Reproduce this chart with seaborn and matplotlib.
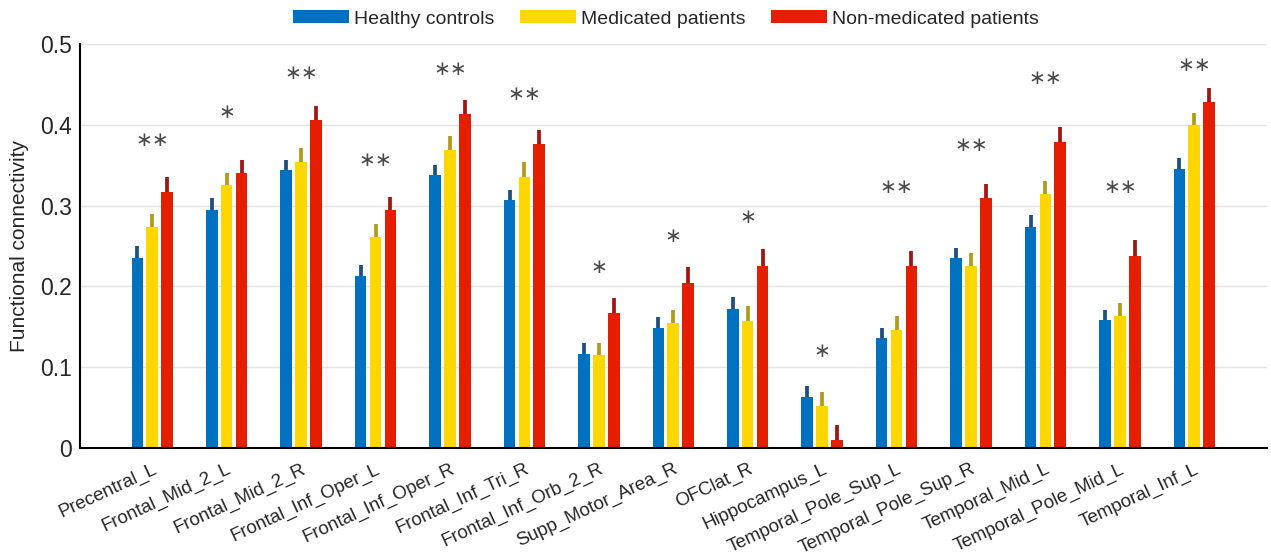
import matplotlib
matplotlib.use("Agg")

import matplotlib.pyplot as plt
import pandas as pd
import seaborn as sns

# values
regions = ["Precentral_L", "Frontal_Mid_2_L", "Frontal_Mid_2_R", "Frontal_Inf_Oper_L",
           "Frontal_Inf_Oper_R", "Frontal_Inf_Tri_R", "Frontal_Inf_Orb_2_R",
           "Supp_Motor_Area_R", "OFClat_R", "Hippocampus_L", "Temporal_Pole_Sup_L",
           "Temporal_Pole_Sup_R", "Temporal_Mid_L", "Temporal_Pole_Mid_L", "Temporal_Inf_L"]
groups = ["Healthy controls", "Medicated patients", "Non-medicated patients"]

healthy = [0.235, 0.295, 0.344, 0.213, 0.338, 0.307, 0.116, 0.148, 0.172, 0.063,
           0.136, 0.235, 0.274, 0.158, 0.345]
medicated = [0.273, 0.325, 0.354, 0.261, 0.369, 0.336, 0.115, 0.155, 0.157, 0.052,
             0.146, 0.225, 0.315, 0.163, 0.400]
nonmedicated = [0.317, 0.341, 0.406, 0.295, 0.414, 0.376, 0.167, 0.204, 0.225, 0.010,
                0.225, 0.310, 0.379, 0.238, 0.428]

# upper end of the error bars
healthy_err = [0.250, 0.309, 0.357, 0.227, 0.350, 0.320, 0.130, 0.162, 0.187, 0.077,
               0.149, 0.248, 0.288, 0.171, 0.359]
medicated_err = [0.290, 0.341, 0.371, 0.277, 0.386, 0.354, 0.130, 0.171, 0.176, 0.070,
                 0.163, 0.241, 0.331, 0.180, 0.415]
nonmedicated_err = [0.335, 0.357, 0.423, 0.311, 0.431, 0.394, 0.186, 0.224, 0.246, 0.028,
                    0.244, 0.327, 0.397, 0.257, 0.446]

stars = ["**", "*", "**", "**", "**", "**", "*", "*", "*", "*", "**", "**", "**", "**", "**"]
star_level = [0.381, 0.415, 0.464, 0.356, 0.468, 0.438, 0.223, 0.262, 0.285, 0.119,
              0.322, 0.375, 0.458, 0.322, 0.474]

yticks = [0, 0.1, 0.2, 0.3, 0.4, 0.5]
ytick_labels = ["0", "0.1", "0.2", "0.3", "0.4", "0.5"]

bar_colors = {"Healthy controls": "#0070c0",
              "Medicated patients": "#ffd700",
              "Non-medicated patients": "#e61e00"}
err_colors = ["#1d4f80", "#b39a1a", "#a31515"]

sns.set_theme(style="white")
plt.rcParams["font.family"] = ["Liberation Sans", "DejaVu Sans"]

df = pd.DataFrame({
    "region": regions * 3,
    "group": [g for g in groups for _ in regions],
    "value": healthy + medicated + nonmedicated,
})

fig = plt.figure(figsize=(12.71, 5.58), dpi=100)
ax = fig.add_axes([0.063, 0.197, 0.934, 0.724])

sns.barplot(data=df, x="region", y="value", hue="group", order=regions,
            hue_order=groups, palette=bar_colors, width=0.6, gap=0.22,
            errorbar=None, linewidth=0, saturation=1, ax=ax)

# one-sided error bars on top of each bar
for cont, errs, col in zip(ax.containers, [healthy_err, medicated_err, nonmedicated_err],
                           err_colors):
    for bar, e in zip(cont, errs):
        xc = bar.get_x() + bar.get_width() / 2
        ax.vlines(xc, bar.get_height(), e, color=col, lw=2.7, zorder=3)

for i, (s, lv) in enumerate(zip(stars, star_level)):
    ax.text(i, lv, s.replace("*", "\u2217"), ha="center", va="center",
            fontsize=14.5, color="#4a4a4a", family="DejaVu Sans")

ax.set_xlim(-0.97, 14.98)
ax.set_ylim(0, 0.5)
ax.set_yticks(yticks)
ax.set_yticklabels(ytick_labels, fontsize=16.5)
ax.set_ylabel("Functional connectivity", fontsize=15, labelpad=8)
ax.set_xlabel("")
ax.set_xticks(range(len(regions)))
ax.set_xticklabels(regions, rotation=25, ha="right", rotation_mode="anchor",
                   fontsize=13.5)
ax.tick_params(axis="x", length=0, pad=9)
ax.tick_params(axis="y", direction="in", length=8, width=1.2, color="black", pad=6)
ax.set_xticks([14.98], minor=True)
ax.tick_params(axis="x", which="minor", direction="in", length=8, width=1.2, color="black")

ax.yaxis.grid(True, color="#e3e3e3", lw=1)
ax.set_axisbelow(True)
sns.despine(ax=ax)
for side in ["left", "bottom"]:
    ax.spines[side].set_color("black")
    ax.spines[side].set_linewidth(1.5)

handles, labels = ax.get_legend_handles_labels()
ax.legend_.remove()
fig.legend(handles, labels, loc="center", bbox_to_anchor=(0.524, 0.966), ncol=3,
           frameon=False, prop={"size": 14},
           handlelength=2.9, handleheight=0.65, handletextpad=0.25, columnspacing=1.3)

fig.savefig("out.png", dpi=100)
